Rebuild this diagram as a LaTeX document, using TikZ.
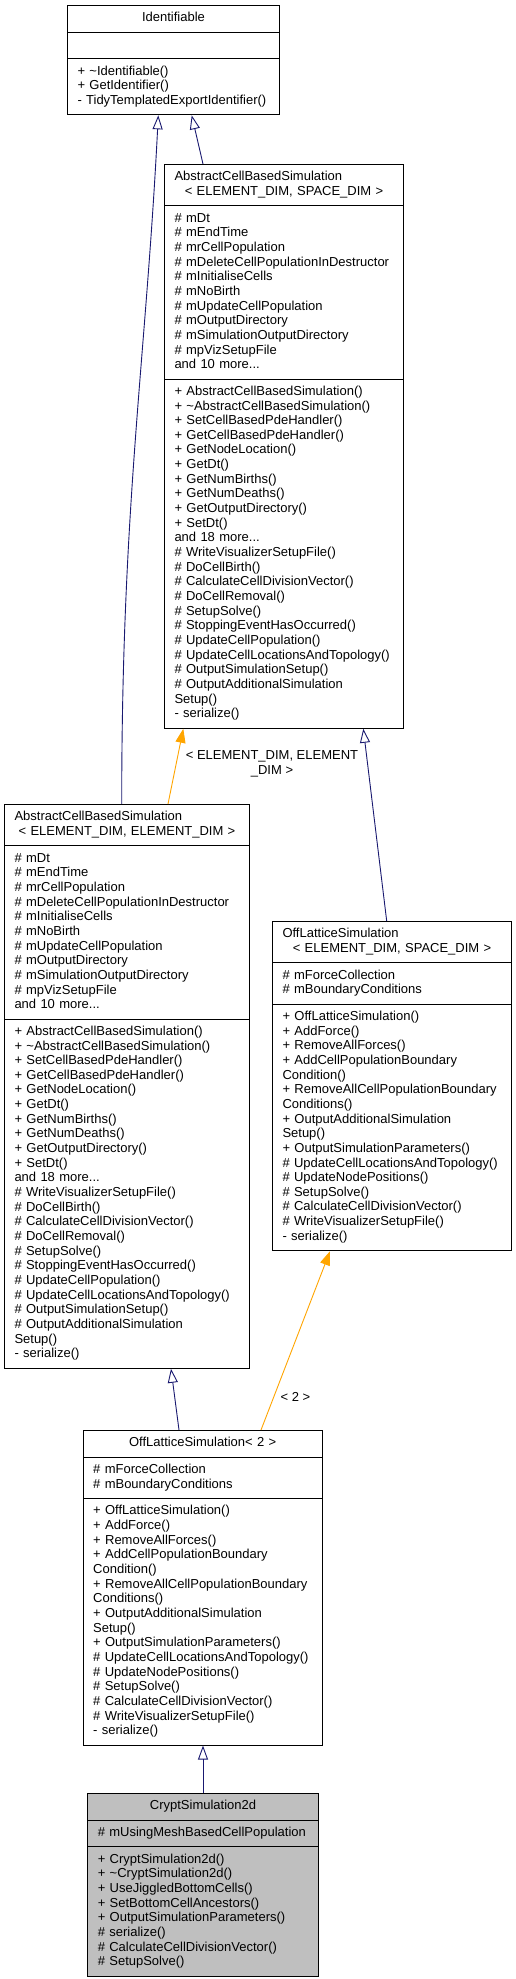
\documentclass[tikz,border=0pt]{standalone}
\usepackage{fontspec}
\setmainfont{Liberation Sans}
\usetikzlibrary{shapes.multipart,arrows.meta}
\definecolor{navy}{HTML}{191970}
\definecolor{tplorange}{HTML}{FFA500}
\definecolor{leafgray}{HTML}{BFBFBF}
\newcommand\umlfont{\fontsize{13}{14.66}\selectfont}
\tikzset{
  classbox/.style={draw=black, line width=1pt, fill=white, rectangle split,
    rectangle split parts=3, anchor=north west, inner xsep=10pt,
    inner ysep=5.5pt, font=\umlfont, align=left},
  isa/.style={navy, line width=0.9pt, -{Triangle[open,length=14pt,width=10pt]}},
  tmpl/.style={tplorange, line width=0.9pt, -{Triangle[length=14pt,width=10pt]}},
  tlabel/.style={font=\umlfont, align=center, inner sep=0pt}
}
\begin{document}
\begin{tikzpicture}[x=1pt,y=-1pt]
\fill[white] (0,0) rectangle (516,1979);
\useasboundingbox (0,0) rectangle (516,1979);

\node[classbox, text width=192pt] (ident) at (67,5)
  {\strut\makebox[\hsize]{Identifiable}\strut
   \nodepart{two}\strut
   \nodepart{three}\strut+ \textasciitilde Identifiable()\\
   + GetIdentifier()\\
   - TidyTemplatedExportIdentifier()\strut};

\node[classbox, text width=219pt] (acbsT) at (164,164)
  {\strut AbstractCellBasedSimulation\\
   \makebox[\hsize]{< ELEMENT\_DIM, SPACE\_DIM >}\strut
   \nodepart{two}\strut\# mDt\\ \# mEndTime\\ \# mrCellPopulation\\
   \# mDeleteCellPopulationInDestructor\\ \# mInitialiseCells\\
   \# mNoBirth\\ \# mUpdateCellPopulation\\ \# mOutputDirectory\\
   \# mSimulationOutputDirectory\\ \# mpVizSetupFile\\
   and 10 more...\strut
   \nodepart{three}\strut+ AbstractCellBasedSimulation()\\
   + \textasciitilde AbstractCellBasedSimulation()\\
   + SetCellBasedPdeHandler()\\ + GetCellBasedPdeHandler()\\
   + GetNodeLocation()\\ + GetDt()\\ + GetNumBirths()\\ + GetNumDeaths()\\
   + GetOutputDirectory()\\ + SetDt()\\ and 18 more...\\
   \# WriteVisualizerSetupFile()\\ \# DoCellBirth()\\
   \# CalculateCellDivisionVector()\\ \# DoCellRemoval()\\
   \# SetupSolve()\\ \# StoppingEventHasOccurred()\\
   \# UpdateCellPopulation()\\ \# UpdateCellLocationsAndTopology()\\
   \# OutputSimulationSetup()\\ \# OutputAdditionalSimulation\\
   Setup()\\ - serialize()\strut};

\node[classbox, text width=225pt] (acbsL) at (4,804)
  {\strut AbstractCellBasedSimulation\\
   \makebox[\hsize]{< ELEMENT\_DIM, ELEMENT\_DIM >}\strut
   \nodepart{two}\strut\# mDt\\ \# mEndTime\\ \# mrCellPopulation\\
   \# mDeleteCellPopulationInDestructor\\ \# mInitialiseCells\\
   \# mNoBirth\\ \# mUpdateCellPopulation\\ \# mOutputDirectory\\
   \# mSimulationOutputDirectory\\ \# mpVizSetupFile\\
   and 10 more...\strut
   \nodepart{three}\strut+ AbstractCellBasedSimulation()\\
   + \textasciitilde AbstractCellBasedSimulation()\\
   + SetCellBasedPdeHandler()\\ + GetCellBasedPdeHandler()\\
   + GetNodeLocation()\\ + GetDt()\\ + GetNumBirths()\\ + GetNumDeaths()\\
   + GetOutputDirectory()\\ + SetDt()\\ and 18 more...\\
   \# WriteVisualizerSetupFile()\\ \# DoCellBirth()\\
   \# CalculateCellDivisionVector()\\ \# DoCellRemoval()\\
   \# SetupSolve()\\ \# StoppingEventHasOccurred()\\
   \# UpdateCellPopulation()\\ \# UpdateCellLocationsAndTopology()\\
   \# OutputSimulationSetup()\\ \# OutputAdditionalSimulation\\
   Setup()\\ - serialize()\strut};

\node[classbox, text width=219pt] (olsT) at (272,921)
  {\strut OffLatticeSimulation\\
   \makebox[\hsize]{< ELEMENT\_DIM, SPACE\_DIM >}\strut
   \nodepart{two}\strut\# mForceCollection\\ \# mBoundaryConditions\strut
   \nodepart{three}\strut+ OffLatticeSimulation()\\ + AddForce()\\
   + RemoveAllForces()\\ + AddCellPopulationBoundary\\ Condition()\\
   + RemoveAllCellPopulationBoundary\\ Conditions()\\
   + OutputAdditionalSimulation\\ Setup()\\
   + OutputSimulationParameters()\\ \# UpdateCellLocationsAndTopology()\\
   \# UpdateNodePositions()\\ \# SetupSolve()\\
   \# CalculateCellDivisionVector()\\ \# WriteVisualizerSetupFile()\\
   - serialize()\strut};

\node[classbox, text width=219pt] (ols2) at (82.7,1430)
  {\strut\makebox[\hsize]{OffLatticeSimulation< 2 >}\strut
   \nodepart{two}\strut\# mForceCollection\\ \# mBoundaryConditions\strut
   \nodepart{three}\strut+ OffLatticeSimulation()\\ + AddForce()\\
   + RemoveAllForces()\\ + AddCellPopulationBoundary\\ Condition()\\
   + RemoveAllCellPopulationBoundary\\ Conditions()\\
   + OutputAdditionalSimulation\\ Setup()\\
   + OutputSimulationParameters()\\ \# UpdateCellLocationsAndTopology()\\
   \# UpdateNodePositions()\\ \# SetupSolve()\\
   \# CalculateCellDivisionVector()\\ \# WriteVisualizerSetupFile()\\
   - serialize()\strut};

\node[classbox, fill=leafgray, text width=210.4pt] (crypt) at (87.3,1793)
  {\strut\makebox[\hsize]{CryptSimulation2d}\strut
   \nodepart{two}\strut\# mUsingMeshBasedCellPopulation\strut
   \nodepart{three}\strut+ CryptSimulation2d()\\
   + \textasciitilde CryptSimulation2d()\\ + UseJiggledBottomCells()\\
   + SetBottomCellAncestors()\\ + OutputSimulationParameters()\\
   \# serialize()\\ \# CalculateCellDivisionVector()\\ \# SetupSolve()\strut};

% inheritance
\draw[isa] ([xshift=117.7pt]acbsL.north west)
  .. controls (121.7,504) and (145.8,361) .. ([xshift=91.3pt]ident.south west);
\draw[isa] ([xshift=39pt]acbsT.north west) -- ([xshift=124.7pt]ident.south west);
\draw[isa] ([xshift=114.7pt]olsT.north west) -- ([xshift=199.3pt]acbsT.south west);
\draw[isa] ([xshift=96.3pt]ols2.north west) -- ([xshift=167pt]acbsL.south west);
\draw[isa] (crypt.north) -- (crypt.north |- ols2.south);

% template instances
\draw[tmpl] ([xshift=164pt]acbsL.north west) -- ([xshift=19.3pt]acbsT.south west);
\node[tlabel] (lblA) at (272,763.5) {< ELEMENT\_DIM, ELEMENT\\\_DIM >};
\draw[tmpl] ([xshift=178.3pt]ols2.north west) -- ([xshift=58pt]olsT.south west);
\node[tlabel] (lblB) at (295.4,1397) {< 2 >};
\end{tikzpicture}
\end{document}
